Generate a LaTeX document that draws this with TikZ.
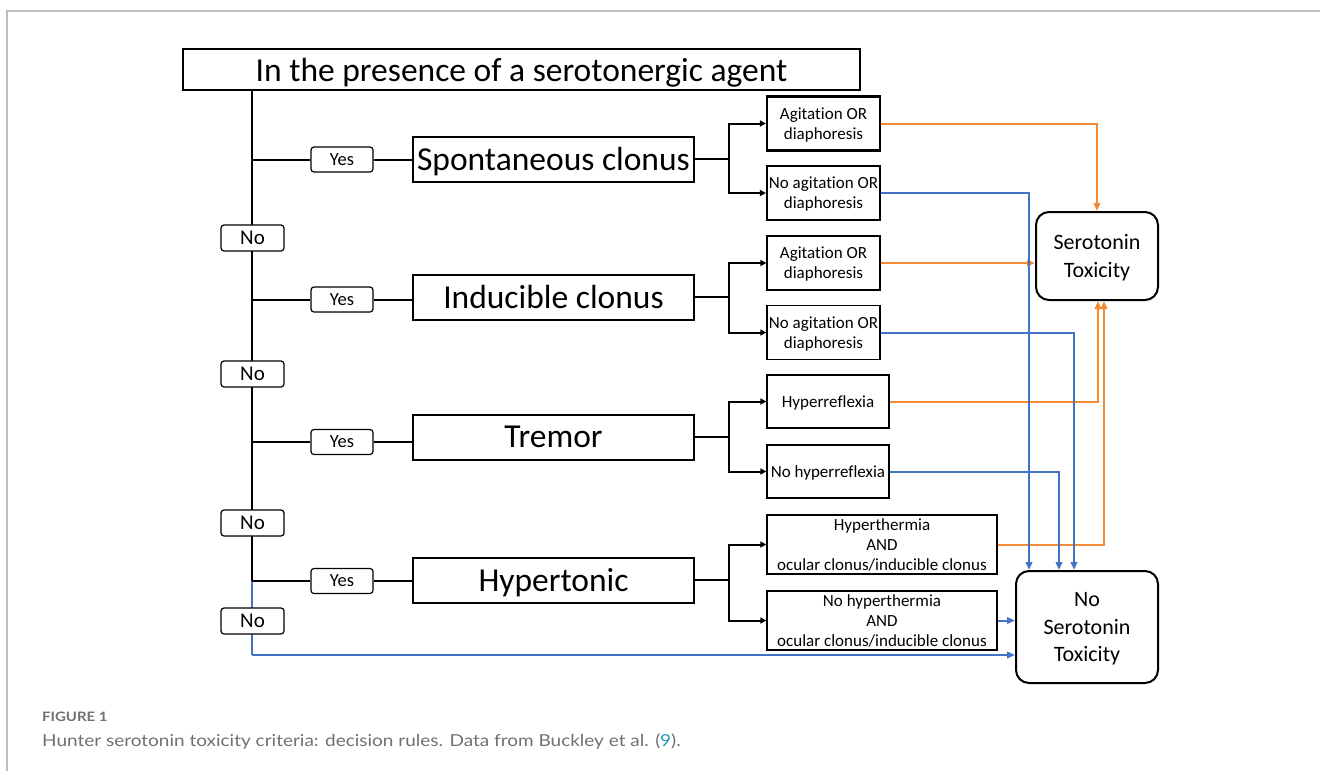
\documentclass[tikz,border=0pt]{standalone}
\usepackage{fontspec}
\setmainfont{Carlito}[Ligatures=NoCommon]
\newfontfamily\capfont{Lato}[FakeStretch=1.15]
\usetikzlibrary{arrows.meta,calc}
\definecolor{org}{HTML}{F28A36}
\definecolor{blu}{HTML}{4472C4}
\definecolor{capgray}{HTML}{707070}
\definecolor{linkc}{HTML}{1E9CB8}
\definecolor{framegray}{HTML}{BDBDBD}
\begin{document}
\begin{tikzpicture}[x=1pt,y=-1pt,
  topbox/.style={draw, line width=2pt, minimum width=677pt, minimum height=41pt, inner sep=0pt, text depth=0pt, font=\fontsize{33.5}{36}\selectfont},
  bigbox/.style={draw, line width=2pt, minimum width=281pt, minimum height=45pt, inner sep=0pt, text depth=0pt, font=\fontsize{33.5}{36}\selectfont},
  yesbox/.style={draw, rounded corners=3pt, line width=1.2pt, fill=white, minimum width=62pt, minimum height=25pt, inner sep=0pt, text depth=0pt, font=\fontsize{18.5}{20}\selectfont},
  nobox/.style={draw, rounded corners=3pt, line width=1.2pt, fill=white, minimum width=63pt, minimum height=26pt, inner sep=0pt, text depth=0pt, font=\fontsize{21}{22}\selectfont},
  outbox/.style={draw, line width=1.3pt, minimum width=113pt, minimum height=54pt, inner sep=0pt, align=center, text depth=0pt, font=\fontsize{17}{20}\selectfont},
  thickout/.style={outbox, line width=2.2pt},
  resbox/.style={draw, line width=2pt, rounded corners=13pt, inner sep=0pt, align=center, text depth=0pt, font=\fontsize{22}{27.5}\selectfont},
  conn/.style={line width=2pt},
  arr/.style={line width=2pt, -{Triangle[length=6pt,width=6pt]}},
  oarr/.style={line width=2pt, color=org, -{Triangle[length=8pt,width=6.5pt]}},
  barr/.style={line width=2pt, color=blu, -{Triangle[length=8pt,width=6.5pt]}}
]
\useasboundingbox (0,0) rectangle (1320,771);
% frame
\draw[framegray, line width=1.5pt] (7,771) -- (7,11) -- (1320,11);

% top
\node[topbox] (top) at (521.5,69.5) {In the presence of a serotonergic agent};

% yes boxes
\node[yesbox] (y1) at (342,159.5) {Yes};
\node[yesbox] (y2) at (342,299.5) {Yes};
\node[yesbox] (y3) at (342,442) {Yes};
\node[yesbox] (y4) at (342,581) {Yes};

% main boxes
\node[bigbox] (m1) at (553.5,159) {Spontaneous clonus};
\node[bigbox] (m2) at (553.5,297) {Inducible clonus};
\node[bigbox] (m3) at (553.5,437) {Tremor};
\node[bigbox] (m4) at (553.5,580) {Hypertonic};

% outcome boxes
\node[thickout] (a1) at (823.5,123.5) {Agitation OR\\diaphoresis};
\node[thickout] (b1) at (823.5,193) {No agitation OR\\diaphoresis};
\node[outbox] (a2) at (823.5,263) {Agitation OR\\diaphoresis};
\node[outbox] (b2) at (823.5,332.5) {No agitation OR\\diaphoresis};
\node[outbox, minimum width=122pt, minimum height=53pt] (hr) at (828,401.5) {Hyperreflexia};
\node[outbox, minimum width=122pt, minimum height=53pt] (nhr) at (828,471.5) {No hyperreflexia};
\node[outbox, minimum width=230pt, minimum height=59pt] (ht) at (882,544.5) {Hyperthermia\\AND\\ocular clonus/inducible clonus};
\node[outbox, minimum width=230pt, minimum height=59pt] (nht) at (882,620.5) {No hyperthermia\\AND\\ocular clonus/inducible clonus};

% results
\node[resbox, minimum width=122pt, minimum height=88pt] (st) at (1097,256) {Serotonin\\Toxicity};
\node[resbox, minimum width=142pt, minimum height=112pt] (nost) at (1087,627) {No\\Serotonin\\Toxicity};

% trunk
\coordinate (trunk) at (251.5,90);
\coordinate (tend) at (251.5,581);
\coordinate (bend) at (251.5,655);
\draw[conn] (trunk) -- (tend);
\draw[conn, blu] (tend) -- (bend);
\draw[barr] (bend) -- (bend -| nost.west);

% branches
\foreach \y/\m in {y1/m1,y2/m2,y3/m3,y4/m4}{
  \draw[conn] (\y.west -| trunk) -- (\y.west);
  \draw[conn] (\y.east) -- (\y.east -| \m.west);
}

% no boxes
\node[nobox] (n1) at (252.5,238) {No};
\node[nobox] (n2) at (252.5,374) {No};
\node[nobox] (n3) at (252.5,523) {No};
\node[nobox] (n4) at (252.5,621) {No};

% splits
\draw[arr] (m1.east) -- ++(34,0) |- (a1.west);
\draw[arr] (m1.east) -- ++(34,0) |- (b1.west);
\draw[arr] (m2.east) -- ++(34,0) |- (a2.west);
\draw[arr] (m2.east) -- ++(34,0) |- (b2.west);
\draw[arr] (m3.east) -- ++(34,0) |- (hr.west);
\draw[arr] (m3.east) -- ++(34,0) |- (nhr.west);
\draw[arr] (m4.east) -- ++(34,0) |- (ht.west);
\draw[arr] (m4.east) -- ++(34,0) |- (nht.west);

% coloured outcomes
\draw[oarr] (a1.east) -| (st.north);
\draw[oarr] (a2.east) -- (a2.east -| st.west);
\draw[oarr] (hr.east) -| ([xshift=1pt]st.south);
\draw[oarr] (ht.east) -| ([xshift=7pt]st.south);
\draw[barr] (b1.east) -| ([xshift=14pt]nost.north west);
\draw[barr] (b2.east) -| ([xshift=59pt]nost.north west);
\draw[barr] (nhr.east) -| ([xshift=44pt]nost.north west);
\draw[barr] (nht.east) -- (nht.east -| nost.west);

% caption
\node[anchor=base west, inner sep=0pt, text=capgray, font=\capfont\bfseries\fontsize{13}{14}\selectfont] (fig) at (42,721) {FIGURE 1};
\node[anchor=base west, inner sep=0pt, text=capgray, font=\capfont\fontsize{16.5}{20}\selectfont] (cap) at (42,746) {Hunter serotonin toxicity criteria: decision rules. Data from Buckley et al. ({\color{linkc}9}).};
\end{tikzpicture}
\end{document}
